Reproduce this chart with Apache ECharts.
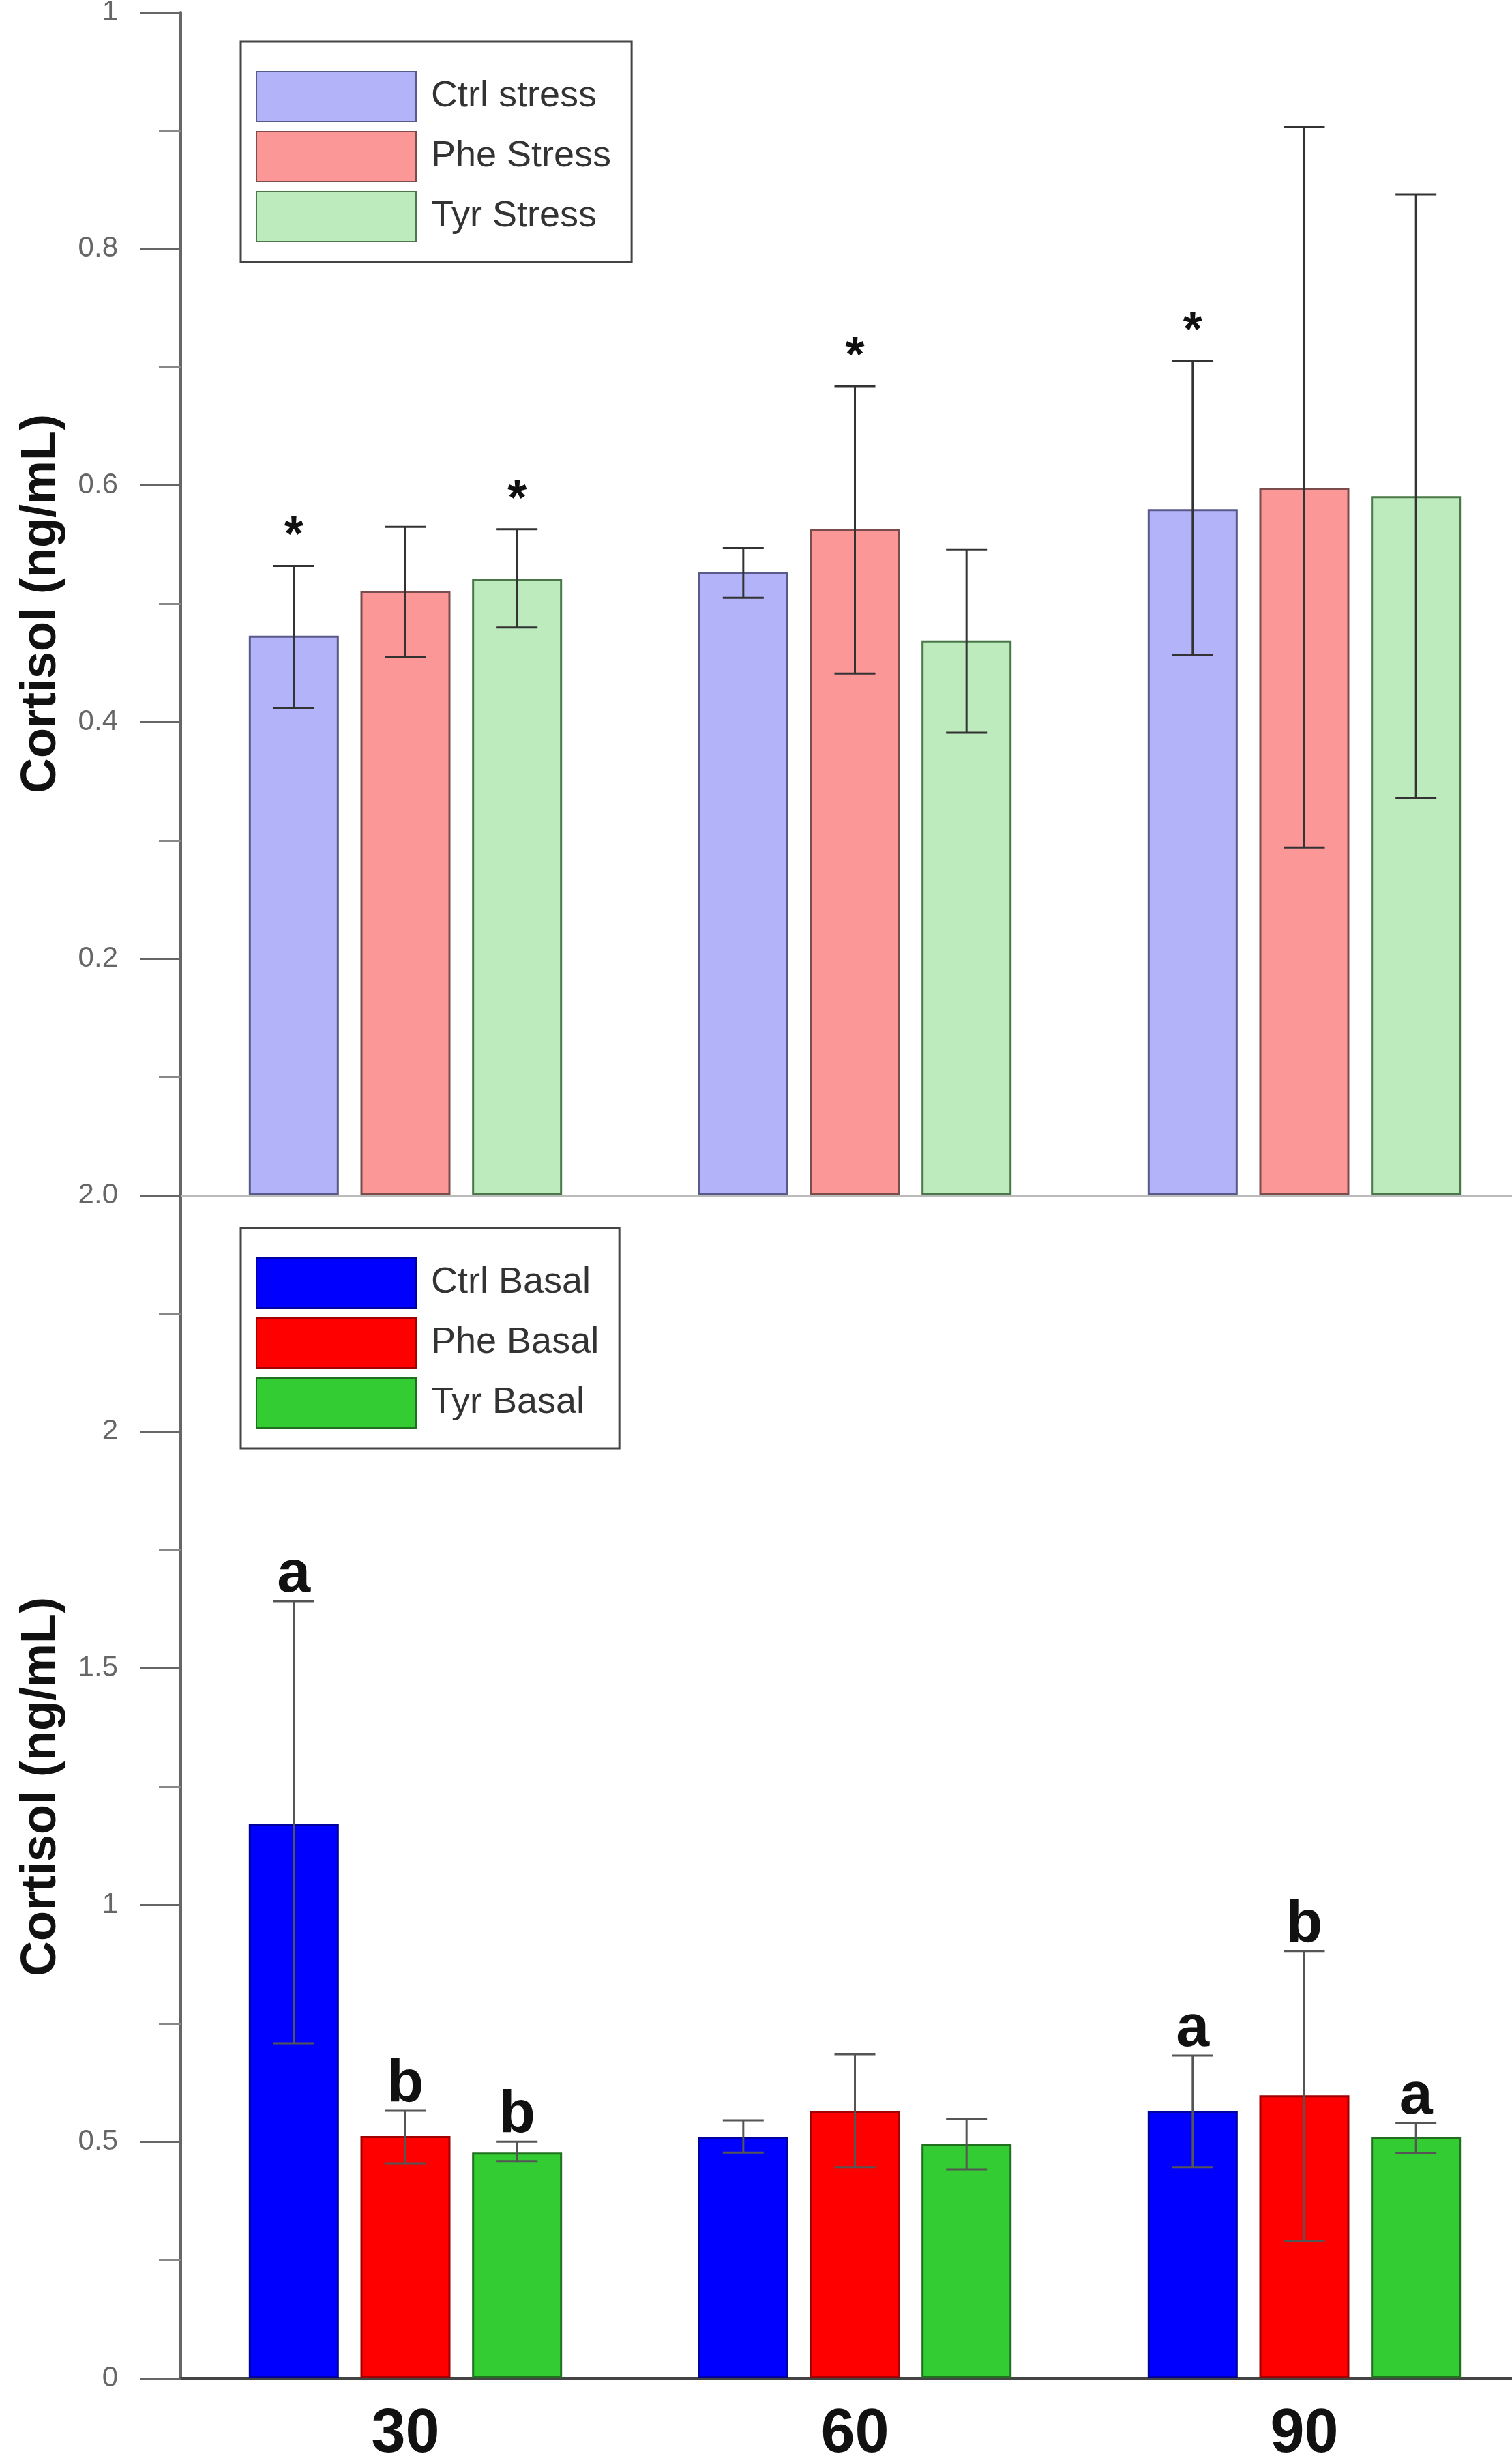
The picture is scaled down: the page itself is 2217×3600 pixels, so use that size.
<!DOCTYPE html>
<html><head><meta charset="utf-8">
<script src="https://cdn.jsdelivr.net/npm/echarts@6/dist/echarts.min.js"></script>
<style>html,body{margin:0;padding:0;background:#fff}#c{width:2217px;height:3600px}</style>
</head><body><div id="c"></div>
<script>
// ---------- data ----------
const categories = ['30', '60', '90'];
const stressNames = ['Ctrl stress', 'Phe Stress', 'Tyr Stress'];
const basalNames = ['Ctrl Basal', 'Phe Basal', 'Tyr Basal'];

const ctrlStress     = [0.473, 0.527, 0.580];
const ctrlStressLow  = [0.412, 0.505, 0.457];
const ctrlStressHigh = [0.532, 0.547, 0.705];
const ctrlStressMark = ['*', '', '*'];

const pheStress     = [0.511, 0.563, 0.598];
const pheStressLow  = [0.455, 0.441, 0.294];
const pheStressHigh = [0.565, 0.684, 0.903];
const pheStressMark = ['', '*', ''];

const tyrStress     = [0.521, 0.469, 0.591];
const tyrStressLow  = [0.480, 0.391, 0.336];
const tyrStressHigh = [0.563, 0.546, 0.846];
const tyrStressMark = ['*', '', ''];

const ctrlBasal     = [1.172, 0.509, 0.565];
const ctrlBasalLow  = [0.708, 0.477, 0.446];
const ctrlBasalHigh = [1.642, 0.545, 0.682];
const ctrlBasalMark = ['a', '', 'a'];

const pheBasal     = [0.512, 0.565, 0.598];
const pheBasalLow  = [0.454, 0.446, 0.290];
const pheBasalHigh = [0.565, 0.685, 0.903];
const pheBasalMark = ['b', '', 'b'];

const tyrBasal     = [0.477, 0.496, 0.509];
const tyrBasalLow  = [0.459, 0.441, 0.475];
const tyrBasalHigh = [0.500, 0.548, 0.540];
const tyrBasalMark = ['b', '', 'a'];

const upperTicks = [0, 0.2, 0.4, 0.6, 0.8, 1];
const upperTickLabels = ['2.0', '0.2', '0.4', '0.6', '0.8', '1'];
const lowerTicks = [0, 0.5, 1, 1.5, 2, 2.5];
const lowerTickLabels = ['0', '0.5', '1', '1.5', '2', ''];

// ---------- style ----------
const FONT = "'Liberation Sans', Arial, sans-serif";
const BAR_W = 132, GAP = 0.24, CAP_W = 60;

function labelFmt(ticks, labels) {
  return v => { const i = ticks.findIndex(t => Math.abs(t - v) < 1e-6); return i >= 0 ? labels[i] : ''; };
}

function barSeries(name, g, values, fill, border) {
  return {
    name, type: 'bar', xAxisIndex: g, yAxisIndex: g, data: values,
    barWidth: BAR_W, barGap: (GAP * 100) + '%',
    itemStyle: { color: fill, borderColor: border, borderWidth: 3 },
    silent: true, z: 2
  };
}

function errSeries(g, sIdx, low, high, marks, color, isStar) {
  return {
    type: 'custom', xAxisIndex: g, yAxisIndex: g, silent: true, z: 5,
    data: categories.map((c, i) => [i, low[i], high[i]]),
    renderItem(params, api) {
      const i = api.value(0);
      const lo = api.coord([i, api.value(1)]);
      const hi = api.coord([i, api.value(2)]);
      const x = lo[0] + (sIdx - 1) * BAR_W * (1 + GAP);
      const cw = CAP_W / 2;
      const st = { stroke: color, lineWidth: 3 };
      const ch = [
        { type: 'line', shape: { x1: x, y1: lo[1], x2: x, y2: hi[1] }, style: st },
        { type: 'line', shape: { x1: x - cw, y1: hi[1], x2: x + cw, y2: hi[1] }, style: st },
        { type: 'line', shape: { x1: x - cw, y1: lo[1], x2: x + cw, y2: lo[1] }, style: st }
      ];
      const m = marks[params.dataIndex];
      if (m) {
        ch.push({
          type: 'text', x: x, y: isStar ? hi[1] - 42 : hi[1] + 6,
          style: {
            text: m, fill: '#111', fontFamily: FONT, fontWeight: 'bold',
            fontSize: isStar ? 72 : 88, align: 'center',
            verticalAlign: isStar ? 'middle' : 'bottom'
          }
        });
      }
      return { type: 'group', children: ch };
    }
  };
}

const legendBase = {
  orient: 'vertical', itemWidth: 234, itemHeight: 73, itemGap: 13,
  borderColor: '#444', borderWidth: 3, icon: 'rect', selectedMode: false,
  padding: [43, 30, 29, 22],
  textStyle: { fontSize: 54, color: '#333', fontFamily: FONT, padding: [0, 0, 0, 17] }
};

function yAxisCfg(g, max, interval, ticks, labels) {
  return {
    gridIndex: g, type: 'value', min: 0, max, interval,
    name: 'Cortisol (ng/mL)', nameLocation: 'middle', nameGap: 168, nameRotate: 90,
    nameTextStyle: { fontSize: 72, fontWeight: 'bold', color: '#111', fontFamily: FONT },
    axisLine: { show: true, lineStyle: { color: '#666', width: 4 } },
    axisTick: { show: true, length: 60, lineStyle: { color: '#666', width: 3 } },
    minorTick: { show: true, splitNumber: 2, length: 32, lineStyle: { color: '#888', width: 3 } },
    splitLine: { show: false },
    axisLabel: { margin: 92, fontSize: 42, color: '#666', fontFamily: FONT, formatter: labelFmt(ticks, labels) }
  };
}

const option = {
  backgroundColor: '#fff',
  animation: false,
  grid: [
    { left: 265, top: 18, width: 1977, height: 1734, outerBoundsMode: 'none', containLabel: false },
    { left: 265, top: 1752, width: 1977, height: 1734, outerBoundsMode: 'none', containLabel: false }
  ],
  legend: [
    Object.assign({}, legendBase, { data: stressNames, left: 353, top: 61 }),
    Object.assign({}, legendBase, { data: basalNames, left: 353, top: 1800 })
  ],
  xAxis: [
    { gridIndex: 0, type: 'category', data: categories,
      axisLine: { show: true, lineStyle: { color: '#bbb', width: 3 } },
      axisTick: { show: false }, axisLabel: { show: false } },
    { gridIndex: 1, type: 'category', data: categories,
      axisLine: { show: true, lineStyle: { color: '#444', width: 4 } },
      axisTick: { show: false },
      axisLabel: { margin: 38, fontSize: 90, fontWeight: 'bold', color: '#111', fontFamily: FONT } }
  ],
  yAxis: [
    yAxisCfg(0, 1, 0.2, upperTicks, upperTickLabels),
    yAxisCfg(1, 2.5, 0.5, lowerTicks, lowerTickLabels)
  ],
  series: [
    barSeries(stressNames[0], 0, ctrlStress, '#b3b3fa', '#5a5a8a'),
    barSeries(stressNames[1], 0, pheStress, '#fc9797', '#7a4c4c'),
    barSeries(stressNames[2], 0, tyrStress, '#bdebbd', '#4a784a'),
    errSeries(0, 0, ctrlStressLow, ctrlStressHigh, ctrlStressMark, '#333', true),
    errSeries(0, 1, pheStressLow, pheStressHigh, pheStressMark, '#333', true),
    errSeries(0, 2, tyrStressLow, tyrStressHigh, tyrStressMark, '#333', true),
    barSeries(basalNames[0], 1, ctrlBasal, '#0000ff', '#0000a0'),
    barSeries(basalNames[1], 1, pheBasal, '#ff0000', '#a00000'),
    barSeries(basalNames[2], 1, tyrBasal, '#33cc33', '#207020'),
    errSeries(1, 0, ctrlBasalLow, ctrlBasalHigh, ctrlBasalMark, '#555', false),
    errSeries(1, 1, pheBasalLow, pheBasalHigh, pheBasalMark, '#555', false),
    errSeries(1, 2, tyrBasalLow, tyrBasalHigh, tyrBasalMark, '#555', false)
  ]
};

const chart = echarts.init(document.getElementById('c'), null, { renderer: 'canvas' });
chart.setOption(option);
</script>
</body></html>
